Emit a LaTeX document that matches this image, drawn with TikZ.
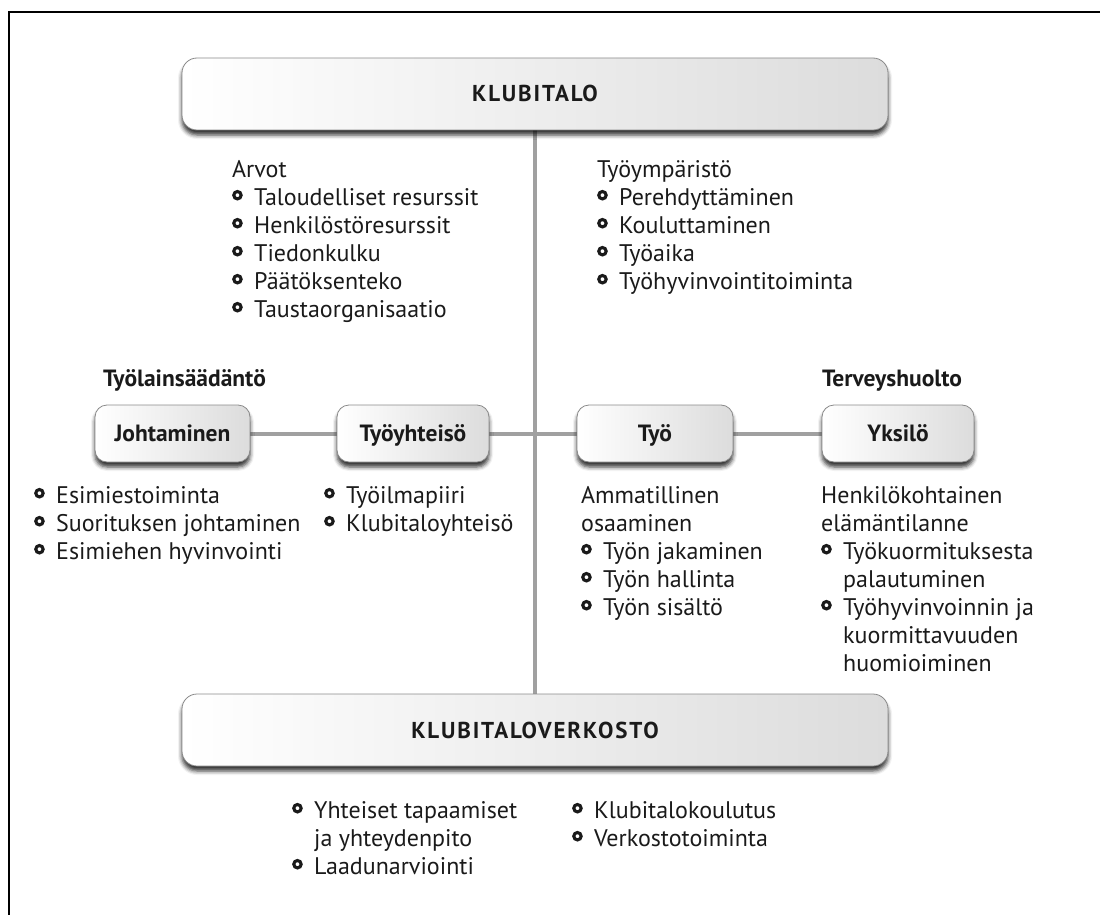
\documentclass[tikz,border=0pt]{standalone}
\usepackage{fontspec}
\setmainfont{PT Sans}
\newfontfamily\spacedfont[LetterSpace=8]{PT Sans}
\usetikzlibrary{shadows.blur,backgrounds}
\definecolor{linegray}{HTML}{A0A0A0}
\definecolor{boxborder}{HTML}{8A8A8A}
\definecolor{boxright}{HTML}{DCDCDC}
\definecolor{ink}{HTML}{1A1A1A}
\newcommand\bul{\makebox[22pt][l]{\tikz[baseline=0pt]\draw[line width=3.1pt,ink] (5.3pt,9.8pt) circle (3.7pt);}}
\tikzset{
  boxbase/.style={draw=boxborder, line width=0.8pt, left color=white, right color=boxright,
    blur shadow={shadow xshift=0pt, shadow yshift=-5pt, shadow blur radius=4pt, shadow opacity=80},
    text=ink, inner sep=0pt, text depth=0pt},
  bigbox/.style={boxbase, rounded corners=15pt, minimum width=706pt, minimum height=72pt,
    text height=16pt, font=\spacedfont\bfseries\fontsize{23}{27}\selectfont},
  smallbox/.style={boxbase, rounded corners=12pt, minimum height=57pt,
    text height=16.4pt, font=\bfseries\fontsize{23.5}{27}\selectfont},
  item/.style={anchor=base west, inner sep=0pt, text=ink, font=\fontsize{24}{28}\selectfont},
  heading/.style={anchor=base, inner sep=0pt, text=ink, font=\bfseries\fontsize{23.5}{27}\selectfont},
  conn/.style={draw=linegray, line width=4pt},
  frameline/.style={draw=black, line width=2pt}
}
\begin{document}
\begin{tikzpicture}[x=1pt,y=-1pt]
\useasboundingbox (0,0) rectangle (1100,915);
% frame
\coordinate (fa) at (9,916);
\coordinate (fb) at (9,12);
\coordinate (fc) at (1101,12);
\draw[frameline] (fa) -- (fb) -- (fc);

% main boxes
\node[bigbox] (klubitalo) at (535,94) {KLUBITALO};
\node[bigbox] (verkosto) at (535,730) {KLUBITALOVERKOSTO};

% small boxes
\node[smallbox, minimum width=155pt] (johtaminen) at (172.5,433.5) {Johtaminen};
\node[smallbox, minimum width=152pt] (tyoyhteiso) at (413,433.5) {Työyhteisö};
\node[smallbox, minimum width=156pt] (tyo) at (655,433.5) {Työ};
\node[smallbox, minimum width=152pt] (yksilo) at (898,433.5) {Yksilö};

% connectors
\begin{scope}[on background layer]
\draw[conn] (klubitalo.south) -- (verkosto.north);
\draw[conn] (johtaminen.east) -- (tyoyhteiso.west);
\draw[conn] (tyoyhteiso.east) -- (tyo.west);
\draw[conn] (tyo.east) -- (yksilo.west);
\end{scope}

% headings
\node[heading] (tyolaki) at (184.5,386) {Työlainsäädäntö};
\node[heading] (terveys) at (892,386) {Terveyshuolto};

% lists
\foreach \t [count=\i from 0] in {Arvot, \bul Taloudelliset resurssit, \bul Henkilöstöresurssit, \bul Tiedonkulku, \bul Päätöksenteko, \bul Taustaorganisaatio}
  \node[item] (arvot\i) at (232,{177+28*\i}) {\t};
\foreach \t [count=\i from 0] in {Työympäristö, \bul Perehdyttäminen, \bul Kouluttaminen, \bul Työaika, \bul Työhyvinvointitoiminta}
  \node[item] (ymparisto\i) at (597,{177+28*\i}) {\t};
\foreach \t [count=\i from 0] in {\bul Esimiestoiminta, \bul Suorituksen johtaminen, \bul Esimiehen hyvinvointi}
  \node[item] (johto\i) at (34,{503+28*\i}) {\t};
\foreach \t [count=\i from 0] in {\bul Työilmapiiri, \bul Klubitaloyhteisö}
  \node[item] (yhteiso\i) at (324,{503+28*\i}) {\t};
\foreach \t [count=\i from 0] in {Ammatillinen, osaaminen, \bul Työn jakaminen, \bul Työn hallinta, \bul Työn sisältö}
  \node[item] (tyolista\i) at (581,{503+28*\i}) {\t};
\foreach \t [count=\i from 0] in {Henkilökohtainen, elämäntilanne, \bul Työkuormituksesta, \hspace*{22pt}palautuminen, \bul Työhyvinvoinnin ja, \hspace*{22pt}kuormittavuuden, \hspace*{22pt}huomioiminen}
  \node[item] (yksilolista\i) at (821,{503+28*\i}) {\t};
\foreach \t [count=\i from 0] in {\bul Yhteiset tapaamiset, \hspace*{22pt}ja yhteydenpito, \bul Laadunarviointi}
  \node[item] (verkostoa\i) at (292,{818+28*\i}) {\t};
\foreach \t [count=\i from 0] in {\bul Klubitalokoulutus, \bul Verkostotoiminta}
  \node[item] (verkostob\i) at (572,{818+28*\i}) {\t};
\end{tikzpicture}
\end{document}
